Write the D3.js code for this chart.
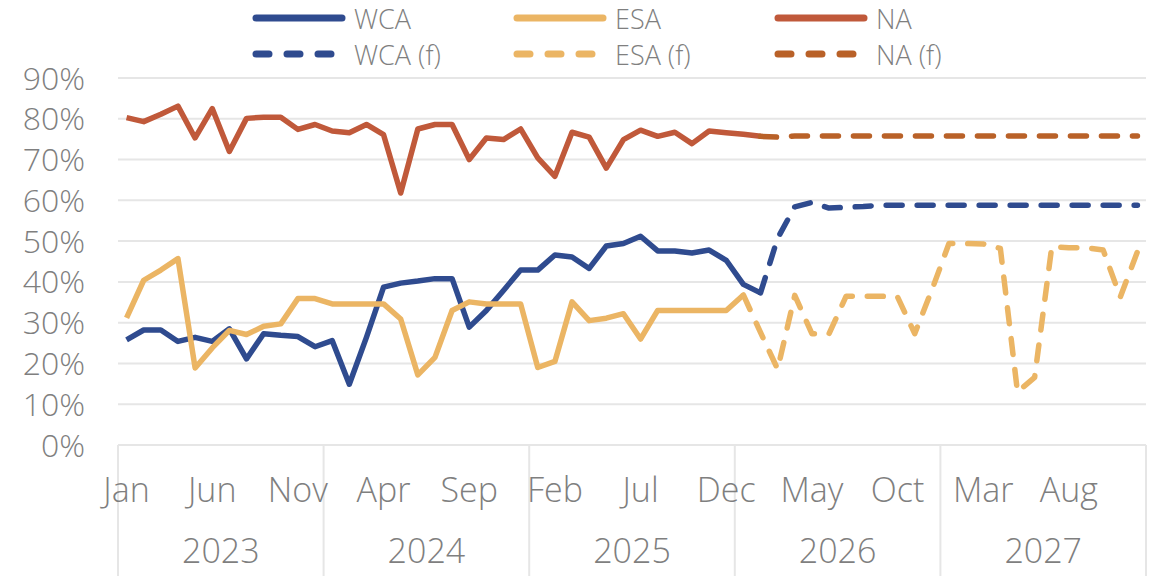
<!DOCTYPE html>
<html>
<head>
<meta charset="utf-8">
<script src="https://cdn.jsdelivr.net/npm/d3@7"></script>
<style>
  body { margin: 0; background: #fff; }
  svg { display: block; font-family: 'Open Sans', 'Lato', sans-serif; font-weight: 300; }
</style>
</head>
<body>
<svg id="chart" width="1158" height="576"></svg>
<script>
// monthly, Jan 2023 .. Dec 2027
const years = ['2023', '2024', '2025', '2026', '2027'];
const monthNames = ['Jan', 'Feb', 'Mar', 'Apr', 'May', 'Jun', 'Jul', 'Aug', 'Sep', 'Oct', 'Nov', 'Dec'];
const yTicks = [0, 10, 20, 30, 40, 50, 60, 70, 80, 90];

// actuals run Jan 2023 .. Feb 2026 (ESA to Jan 2026)
const wcaActual = [25.8, 28.2, 28.2, 25.4, 26.4, 25.4, 28.5, 21.1, 27.3, 26.9, 26.6, 24.1,
  25.6, 14.9, 26.4, 38.7, 39.7, 40.2, 40.8, 40.8, 28.9, 33.0, 37.9, 42.9,
  42.9, 46.6, 46.1, 43.3, 48.8, 49.4, 51.2, 47.6, 47.6, 47.1, 47.8, 45.3,
  39.4, 37.3];
const esaActual = [31.2, 40.4, 42.9, 45.7, 18.9, 23.8, 28.1, 27.1, 29.1, 29.7, 35.9, 35.9,
  34.6, 34.6, 34.6, 34.6, 30.9, 17.2, 21.5, 33.0, 35.1, 34.6, 34.6, 34.6,
  19.0, 20.5, 35.1, 30.5, 31.1, 32.2, 26.0, 33.0, 33.0, 33.0, 33.0, 33.0,
  36.8];
const naActual = [80.3, 79.3, 81.1, 83.1, 75.3, 82.5, 72.0, 80.1, 80.4, 80.4, 77.4, 78.6,
  77.0, 76.6, 78.6, 76.1, 61.8, 77.5, 78.6, 78.6, 70.0, 75.3, 74.9, 77.5,
  70.4, 65.9, 76.7, 75.5, 67.9, 74.9, 77.2, 75.7, 76.7, 73.9, 77.0, 76.6,
  76.2, 75.7];

// forecasts start at the last actual month
const wcaForecast = [37.3, 50.7, 58.4, 59.5, 58.1, 58.3, 58.5, 58.8, 58.8, 58.8, 58.8,
  58.8, 58.8, 58.8, 58.8, 58.8, 58.8, 58.8, 58.8, 58.8, 58.8, 58.8, 58.8];
const esaForecast = [36.8, 27.6, 18.6, 36.7, 27.3, 27.3, 36.5, 36.5, 36.5, 36.3, 27.3, 38.0,
  49.4, 49.4, 49.3, 48.2, 13.0, 16.6, 48.6, 48.4, 48.4, 47.8, 36.3, 47.4];
const naForecast = [75.7, 75.5, 75.8, 75.8, 75.8, 75.8, 75.8, 75.8, 75.8, 75.8, 75.8,
  75.8, 75.8, 75.8, 75.8, 75.8, 75.8, 75.8, 75.8, 75.8, 75.8, 75.8, 75.8];

const series = [
  { name: 'WCA', values: wcaActual, start: 0, color: '#2f4b8f', dash: null },
  { name: 'ESA', values: esaActual, start: 0, color: '#ebb564', dash: null },
  { name: 'NA', values: naActual, start: 0, color: '#c0593a', dash: null },
  { name: 'WCA (f)', values: wcaForecast, start: 60 - wcaForecast.length, color: '#2f4b8f', dash: '16 15' },
  { name: 'ESA (f)', values: esaForecast, start: 60 - esaForecast.length, color: '#ebb564', dash: '16 15' },
  { name: 'NA (f)', values: naForecast, start: 60 - naForecast.length, color: '#b96128', dash: '16 15' }
];

const months = [];
years.forEach(yr => monthNames.forEach(m => months.push(yr + '-' + m)));

const svg = d3.select('#chart');
const plotLeft = 118, plotRight = 1146, plotTop = 78, plotBottom = 445;
const textColor = '#7f7f7f';
const gridColor = '#e6e6e6';

const x = d3.scaleBand().domain(months).range([plotLeft, plotRight]);
const y = d3.scaleLinear().domain([0, 90]).range([plotBottom, plotTop]);
const cx = k => x(months[k]) + x.bandwidth() / 2;

// gridlines
svg.append('g')
  .selectAll('line')
  .data(yTicks)
  .enter()
  .append('line')
  .attr('x1', plotLeft).attr('x2', plotRight)
  .attr('y1', d => y(d)).attr('y2', d => y(d))
  .attr('stroke', gridColor)
  .attr('stroke-width', 2);

// y labels
svg.append('g')
  .selectAll('text')
  .data(yTicks)
  .enter()
  .append('text')
  .attr('x', 85)
  .attr('y', d => y(d))
  .attr('dy', '0.36em')
  .attr('text-anchor', 'end')
  .attr('fill', textColor)
  .style('font-size', '32px')
  .text(d => d + '%');

// year separators
const yearStarts = years.map(yr => x(yr + '-Jan')).concat([plotRight]);
svg.append('g')
  .selectAll('line')
  .data(yearStarts)
  .enter()
  .append('line')
  .attr('x1', d => d).attr('x2', d => d)
  .attr('y1', plotBottom).attr('y2', 576)
  .attr('stroke', gridColor)
  .attr('stroke-width', 2);

// month labels every 5 months
const tickIdx = d3.range(0, 60, 5);
svg.append('g')
  .selectAll('text')
  .data(tickIdx)
  .enter()
  .append('text')
  .attr('x', d => cx(d))
  .attr('y', 502)
  .attr('text-anchor', 'middle')
  .attr('fill', textColor)
  .style('font-size', '34px')
  .text(d => months[d].split('-')[1]);

// year labels
svg.append('g')
  .selectAll('text')
  .data(years)
  .enter()
  .append('text')
  .attr('x', (d, i) => (yearStarts[i] + yearStarts[i + 1]) / 2)
  .attr('y', 563)
  .attr('text-anchor', 'middle')
  .attr('fill', textColor)
  .style('font-size', '34px')
  .text(d => d);

// lines
const line = d3.line()
  .x(d => cx(d.i))
  .y(d => y(d.v));

svg.append('g')
  .selectAll('path')
  .data(series)
  .enter()
  .append('path')
  .attr('d', s => line(s.values.map((v, k) => ({ i: s.start + k, v: v }))))
  .attr('fill', 'none')
  .attr('stroke', s => s.color)
  .attr('stroke-width', 5.5)
  .attr('stroke-linejoin', 'round')
  .attr('stroke-linecap', s => s.dash ? 'round' : 'butt')
  .attr('stroke-dasharray', s => s.dash);

// legend: 3 columns x 2 rows
const legend = svg.append('g')
  .selectAll('g')
  .data(series)
  .enter()
  .append('g')
  .attr('transform', (s, i) => `translate(${253 + (i % 3) * 261},${i < 3 ? 18 : 54})`);

legend.append('line')
  .attr('x1', 3).attr('x2', 89)
  .attr('stroke', s => s.color)
  .attr('stroke-width', 7)
  .attr('stroke-linecap', 'round')
  .attr('stroke-dasharray', s => s.dash ? '13 18' : null);

legend.append('text')
  .attr('x', 101)
  .attr('y', 11)
  .attr('fill', textColor)
  .style('font-size', '27px')
  .text(s => s.name);
</script>
</body>
</html>
